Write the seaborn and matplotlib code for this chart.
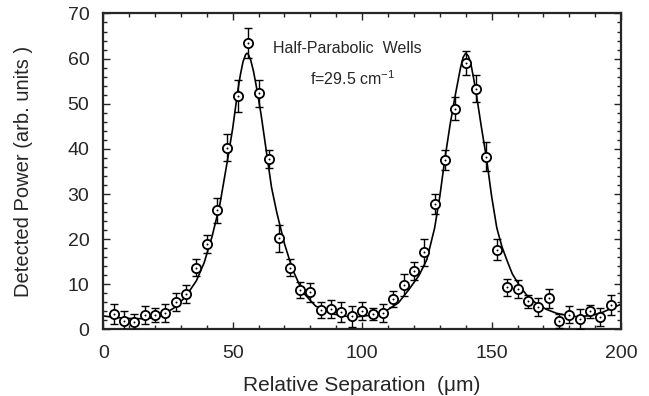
import numpy as np
import pandas as pd
import matplotlib
matplotlib.use("Agg")
import matplotlib.pyplot as plt
import seaborn as sns
from matplotlib.ticker import MultipleLocator

# Measured points (relative separation in um, detected power)
sep = [4, 8, 12, 16, 20, 24, 28, 32, 36, 40, 44, 48, 52, 56, 60, 64, 68, 72, 76, 80,
       84, 88, 92, 96, 100, 104, 108, 112, 116, 120, 124, 128, 132, 136, 140, 144, 148,
       152, 156, 160, 164, 168, 172, 176, 180, 184, 188, 192, 196]
power = [3.5, 1.9, 1.7, 3.3, 3.2, 3.7, 6.1, 7.9, 13.7, 19.0, 26.4, 40.3, 51.7, 63.4, 52.3,
         37.7, 20.2, 13.7, 8.7, 8.2, 4.3, 4.6, 3.8, 2.9, 4.0, 3.5, 3.7, 6.8, 9.8, 12.9,
         17.1, 27.8, 37.5, 48.9, 59.0, 53.3, 38.3, 17.7, 9.3, 9.0, 6.2, 4.9, 6.9, 1.9,
         3.3, 2.3, 4.0, 2.8, 5.4]
err = [2.2, 2.2, 1.8, 2.0, 1.5, 2.0, 2.0, 2.0, 1.8, 2.0, 2.8, 3.0, 3.5, 3.3, 3.0, 2.0,
       3.0, 1.8, 1.8, 2.2, 1.8, 2.0, 2.2, 2.4, 2.0, 1.3, 2.0, 1.8, 2.4, 2.0, 3.0, 2.3,
       2.2, 2.5, 2.7, 3.0, 3.2, 2.4, 1.8, 2.0, 1.5, 2.0, 2.1, 1.5, 1.8, 2.3, 1.5, 2.0, 2.2]

# Fitted curve
fit_x = [0, 4, 8, 12, 16, 20, 24, 28, 32, 36, 39, 42, 45, 48, 50, 52, 53, 54, 55, 55.5,
         56, 57, 58, 59, 60, 61, 63, 65, 67, 70, 73, 77, 82, 88, 94, 98, 104, 110, 114,
         118, 122, 125, 128, 130, 132, 134, 136, 137, 138, 139, 140, 141, 142, 143, 144,
         146, 148, 150, 152, 154, 156, 158, 161, 164, 167, 171, 175, 180, 184, 188, 192,
         196, 200]
fit_y = [3.0, 2.7, 2.5, 2.4, 2.4, 2.6, 3.6, 5.0, 7.4, 10.8, 14.8, 20.5, 27.5, 37.5, 44.5,
         53.0, 56.5, 59.3, 60.9, 61.2, 61.0, 59.6, 57.3, 54.3, 51.0, 47.5, 39.5, 31.5,
         26.0, 19.0, 13.5, 8.3, 5.2, 3.5, 2.9, 2.8, 3.2, 4.4, 5.9, 8.8, 12.0, 15.5, 22.5,
         29.5, 38.0, 45.5, 52.0, 55.0, 58.0, 60.3, 61.2, 60.6, 58.8, 55.8, 52.5, 45.0,
         38.0, 29.5, 22.5, 18.3, 15.2, 12.3, 9.5, 7.3, 5.9, 4.5, 3.6, 3.0, 2.8, 3.1, 3.6,
         4.6, 5.6]

pts = pd.DataFrame({"sep": sep, "power": power, "err": err})
fit = pd.DataFrame({"sep": fit_x, "power": fit_y})

sns.set_style("ticks")
plt.rcParams["font.family"] = ["Liberation Sans", "DejaVu Sans"]

fig = plt.figure(figsize=(6.49, 3.96), dpi=100)
ax = fig.add_axes([0.159, 0.168, 0.798, 0.798])

sns.lineplot(data=fit, x="sep", y="power", color="black", lw=1.2, ax=ax, zorder=2)
ax.errorbar(pts["sep"], pts["power"], yerr=pts["err"], fmt="none", ecolor="black",
            elinewidth=1.0, capsize=2.6, capthick=1.0, zorder=3)
sns.scatterplot(data=pts, x="sep", y="power", marker="o", s=44, facecolor="white",
                edgecolor="black", linewidth=1.3, ax=ax, zorder=4)
sns.scatterplot(data=pts, x="sep", y="power", marker="o", s=2, color="black",
                linewidth=0, ax=ax, zorder=5)

ax.text(94.2, 62.3, "Half-Parabolic  Wells", ha="center", va="center", fontsize=11.5)
ax.text(96.5, 55.6, "f=29.5 cm$^{\\mathregular{-1}}$", ha="center", va="center", fontsize=11.5)

ax.set_xlim(0, 200)
ax.set_ylim(0, 70)
ax.xaxis.set_major_locator(MultipleLocator(50))
ax.xaxis.set_minor_locator(MultipleLocator(10))
ax.yaxis.set_major_locator(MultipleLocator(10))
ax.yaxis.set_minor_locator(MultipleLocator(2))
ax.tick_params(which="both", direction="in", top=True, right=True, width=1.0)
ax.tick_params(which="major", length=5, labelsize=14)
ax.tick_params(axis="x", which="major", pad=11)
ax.tick_params(axis="y", which="major", pad=10)
ax.tick_params(which="minor", length=3)
for s in ax.spines.values():
    s.set_linewidth(1.6)

ax.set_xlabel("Relative Separation  (\u03bcm)", fontsize=15, labelpad=10)
ax.set_ylabel("Detected Power (arb. units )", fontsize=14.5, labelpad=25)

fig.savefig("out.png", dpi=100)
